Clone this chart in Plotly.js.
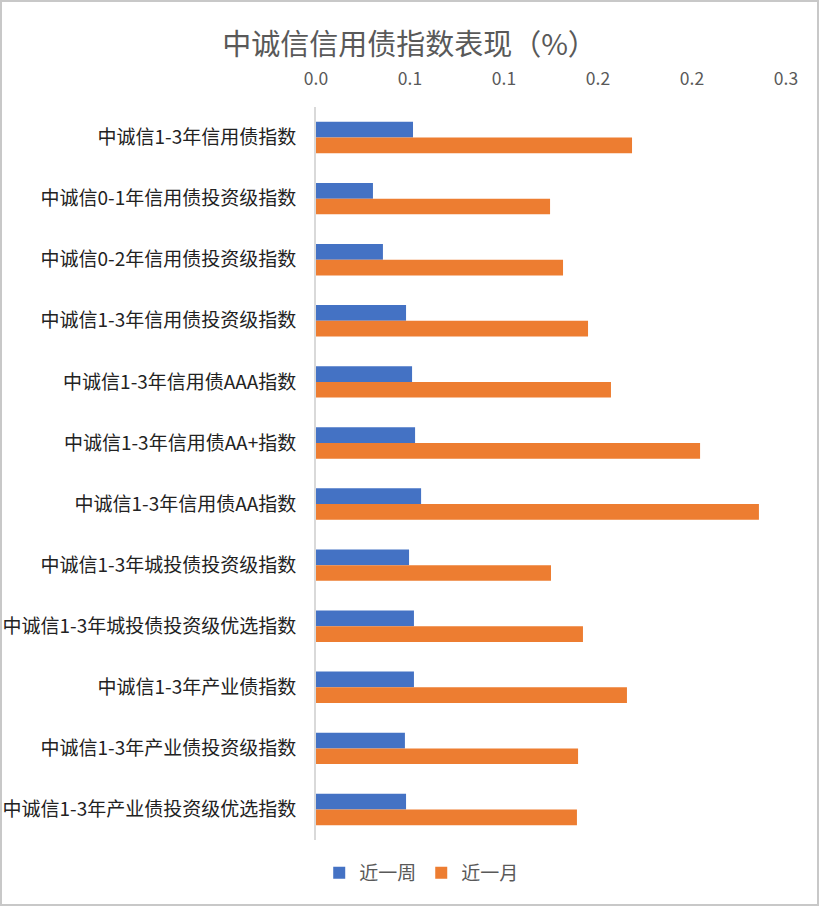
<!DOCTYPE html>
<html>
<head>
<meta charset="utf-8">
<script src="https://cdn.plot.ly/plotly-3.0.1.min.js"></script>
<style>
  html, body { margin: 0; padding: 0; background: #fff; }
  #chart { width: 815px; height: 902px; border: 2px solid #c8c8c8; }
</style>
</head>
<body>
<div id="chart"></div>
<script>
// 指数名称（自上而下）
const indexNames = [
  "中诚信1-3年信用债指数",
  "中诚信0-1年信用债投资级指数",
  "中诚信0-2年信用债投资级指数",
  "中诚信1-3年信用债投资级指数",
  "中诚信1-3年信用债AAA指数",
  "中诚信1-3年信用债AA+指数",
  "中诚信1-3年信用债AA指数",
  "中诚信1-3年城投债投资级指数",
  "中诚信1-3年城投债投资级优选指数",
  "中诚信1-3年产业债指数",
  "中诚信1-3年产业债投资级指数",
  "中诚信1-3年产业债投资级优选指数"
];

// 近一周 / 近一月 涨跌（%）
const lastWeek = [0.0516, 0.0303, 0.0356, 0.0479, 0.0511, 0.0527, 0.0559, 0.0495, 0.0521, 0.0521, 0.0473, 0.0479];
const lastMonth = [0.1681, 0.1245, 0.1314, 0.1447, 0.1569, 0.2043, 0.2356, 0.1250, 0.1420, 0.1654, 0.1394, 0.1388];

// 横轴刻度（Excel 一位小数显示）
const xTickVals = [0, 0.05, 0.10, 0.15, 0.20, 0.25];
const xTickText = ["0.0", "0.1", "0.1", "0.2", "0.2", "0.3"];

const font = "'Noto Sans CJK SC', 'Noto Sans', sans-serif";

const traces = [
  {
    name: "近一周",
    type: "bar",
    orientation: "h",
    x: lastWeek,
    y: indexNames,
    marker: { color: "#4472C4" }
  },
  {
    name: "近一月",
    type: "bar",
    orientation: "h",
    x: lastMonth,
    y: indexNames,
    marker: { color: "#ED7D31" }
  }
];

const layout = {
  width: 815,
  height: 902,
  paper_bgcolor: "#fff",
  plot_bgcolor: "#fff",
  font: { family: font, color: "#595959" },
  title: {
    text: "中诚信信用债指数表现（%）",
    font: { size: 29, color: "#595959", family: font },
    x: 0.5,
    xref: "container",
    y: 1 - 43 / 902,
    yref: "container",
    yanchor: "middle"
  },
  margin: { l: 314, r: 31, t: 105, b: 64 },
  barmode: "group",
  bargap: 0.486,
  bargroupgap: 0,
  xaxis: {
    side: "top",
    range: [0, 0.25],
    tickvals: xTickVals,
    ticktext: xTickText,
    tickfont: { size: 17.5, color: "#595959" },
    showgrid: false,
    zeroline: false,
    showline: false,
    ticks: "",
    ticklabelstandoff: 18,
    fixedrange: true
  },
  yaxis: {
    autorange: "reversed",
    tickfont: { size: 19, color: "#222222" },
    showgrid: false,
    zeroline: false,
    showline: true,
    linecolor: "#d9d9d9",
    linewidth: 2,
    ticks: "",
    ticklabelstandoff: 14,
    fixedrange: true
  },
  legend: {
    orientation: "h",
    xref: "container",
    yref: "container",
    x: 0.515,
    xanchor: "center",
    y: 1 - 871 / 902,
    yanchor: "middle",
    font: { size: 19, color: "#595959" },
    itemwidth: 30,
    traceorder: "normal"
  },
  showlegend: true
};

Plotly.newPlot("chart", traces, layout, { displayModeBar: false, staticPlot: true });
</script>
</body>
</html>
